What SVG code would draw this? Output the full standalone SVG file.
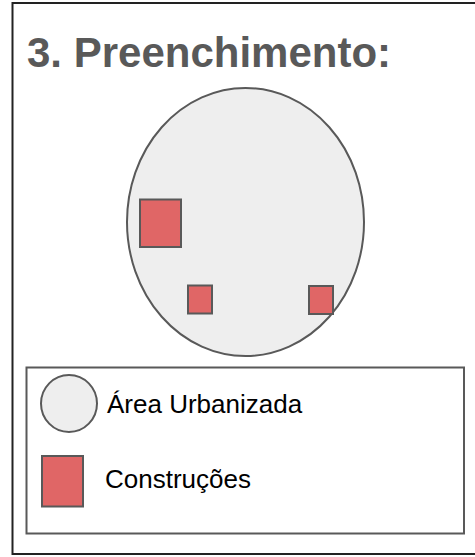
<svg xmlns="http://www.w3.org/2000/svg" width="475" height="557" viewBox="0 0 475 557">
<style>
.bld{fill:#e06666;stroke:#595959;stroke-width:2}
.area{fill:#eeeeee;stroke:#595959;stroke-width:2}
.lbl{font-family:"Liberation Sans",Arial,sans-serif;font-size:26px;fill:#000}
</style>
<rect x="0" y="0" width="475" height="557" fill="#ffffff"/>
<g id="frame"><rect x="12.5" y="3" width="470" height="551" fill="#ffffff" stroke="#222" stroke-width="2"/></g>
<g id="title"><text x="27" y="67" font-family="Liberation Sans,Arial,sans-serif" font-weight="bold" font-size="42" fill="#595959">3. Preenchimento:</text></g>
<g id="area"><ellipse cx="245.5" cy="222" rx="118.5" ry="134" class="area"/></g>
<g id="b1"><rect x="140" y="199.5" width="41" height="47.5" class="bld"/></g>
<g id="b2"><rect x="188" y="285.5" width="24" height="28" class="bld"/></g>
<g id="b3"><rect x="309" y="286" width="24" height="28" class="bld"/></g>
<g id="legend">
<rect x="26.5" y="367.5" width="437.5" height="166" fill="#ffffff" stroke="#595959" stroke-width="2"/>
<ellipse cx="69" cy="403.5" rx="28" ry="28.5" class="area"/>
<text x="107" y="413" class="lbl">Área Urbanizada</text>
<rect x="42" y="456" width="41" height="50.5" class="bld"/>
<text x="105" y="488" class="lbl">Construções</text>
</g>
<g id="connectors"/>
</svg>
